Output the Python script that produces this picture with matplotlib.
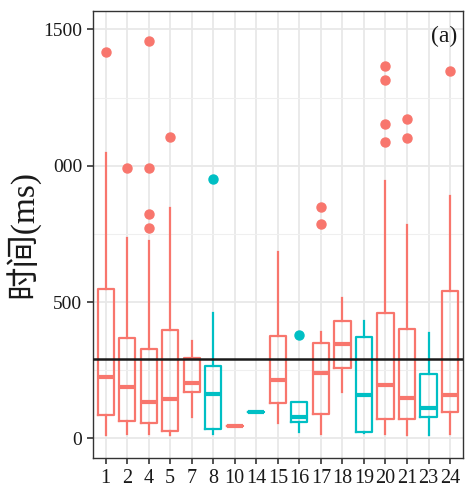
import matplotlib
matplotlib.use("Agg")
import matplotlib.pyplot as plt
from matplotlib.ticker import FixedLocator

# ---- data ----
categories = ["1", "2", "4", "5", "7", "8", "10", "14", "15", "16", "17", "18", "19", "20", "21", "23", "24"]
group = ["A", "A", "A", "A", "A", "B", "A", "B", "A", "B", "A", "A", "B", "A", "A", "B", "A"]
whis_low = [12, 16, 16, 12, 79, 16, 45, 98, 55, 22, 15, 171, 20, 15, 12, 12, 15]
q1_vals = [86, 65, 57, 28, 171, 34, 45, 98, 131, 61, 89, 259, 22, 70, 70, 79, 98]
medians = [226, 189, 132, 145, 202, 161, 45, 98, 214, 79, 239, 345, 159, 196, 147, 110, 159]
q3_vals = [547, 369, 327, 397, 294, 265, 45, 98, 377, 132, 349, 430, 373, 461, 402, 235, 542]
whis_high = [1048, 736, 725, 844, 357, 461, 45, 98, 685, 132, 391, 516, 432, 945, 783, 388, 890]
outliers = [
    [1419], [991], [1459, 991, 824, 771], [1107], [], [950], [], [], [],
    [379], [848, 786], [], [], [1367, 1315, 1153, 1088], [1172, 1103], [], [1349],
]
reference_line = 292
y_ticks = [0, 500, 1000, 1500]
y_tick_labels = ["0", "500", "000", "1500"]
y_minor = [250, 750, 1250]
panel_tag = "(a)"
y_label = "时间(ms)"

colors = {"A": "#F8766D", "B": "#00BFC4"}

fig = plt.figure(figsize=(4.65, 4.88), dpi=100)
ax = fig.add_axes([0.1993, 0.0609, 0.7964, 0.9172])

positions = list(range(1, len(categories) + 1))
for i, pos in enumerate(positions):
    c = colors[group[i]]
    stats = [dict(med=medians[i], q1=q1_vals[i], q3=q3_vals[i],
                  whislo=whis_low[i], whishi=whis_high[i], fliers=outliers[i])]
    ax.bxp(stats, positions=[pos], widths=0.75, showcaps=False, patch_artist=False,
           boxprops=dict(color=c, linewidth=1.6),
           whiskerprops=dict(color=c, linewidth=1.6),
           medianprops=dict(color=c, linewidth=3.0, solid_capstyle="butt"),
           flierprops=dict(marker="o", markerfacecolor=c, markeredgecolor=c,
                           markersize=6.5, linestyle="none"),
           zorder=3)

ax.axhline(reference_line, color="#1a1a1a", linewidth=1.8, zorder=4)

ax.set_xlim(0.4, len(categories) + 0.6)
ax.set_ylim(-73, 1569)
ax.set_xticks(positions)
ax.set_xticklabels(categories)
ax.set_yticks(y_ticks)
ax.set_yticklabels(y_tick_labels)
ax.yaxis.set_minor_locator(FixedLocator(y_minor))

ax.grid(True, which="major", color="#E8E8E8", linewidth=1.3, zorder=0)
ax.grid(True, which="minor", axis="y", color="#EFEFEF", linewidth=0.8, zorder=0)
ax.set_axisbelow(True)
for s in ax.spines.values():
    s.set_color("#333333")
    s.set_linewidth(1.0)

serif = ["Liberation Serif", "DejaVu Serif"]
ax.tick_params(axis="both", which="major", length=4.5, width=1.2, color="#333333",
               labelcolor="#1a1a1a", labelsize=14, pad=3)
ax.tick_params(axis="x", which="major", labelsize=14.5, pad=3)
ax.tick_params(axis="y", which="minor", length=0)
for lab in ax.get_xticklabels() + ax.get_yticklabels():
    lab.set_family(serif)

ax.set_ylabel(y_label, family=["Liberation Serif", "Noto Sans CJK SC"], fontsize=24,
              color="#1a1a1a", labelpad=2)
ax.text(0.985, 0.965, panel_tag, transform=ax.transAxes, ha="right", va="top",
        family=serif, fontsize=17, color="#1a1a1a")

fig.savefig("out.png", dpi=100)
